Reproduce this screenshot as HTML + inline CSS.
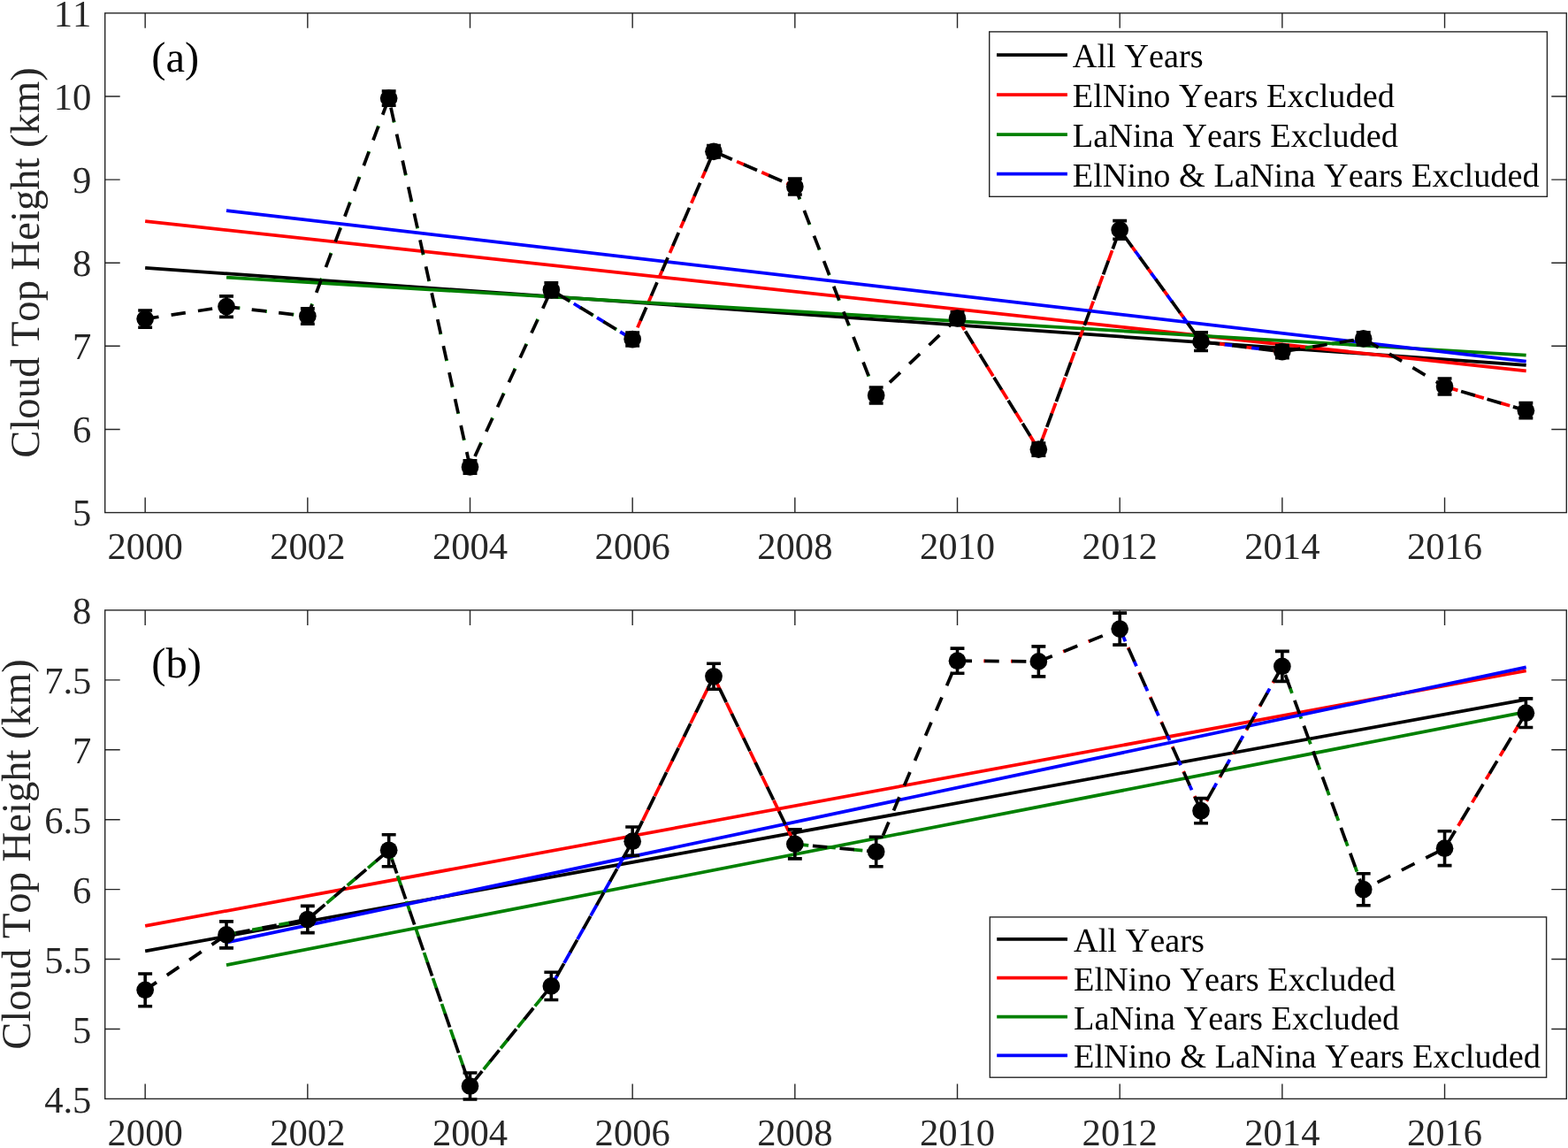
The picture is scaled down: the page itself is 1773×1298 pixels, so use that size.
<!DOCTYPE html>
<html lang="en">
<head>
<meta charset="utf-8">
<title>Cloud Top Height trends</title>
<style>
html,body{margin:0;padding:0;background:#ffffff;}
body{width:1773px;height:1298px;overflow:hidden;}
svg{display:block;font-family:"Liberation Serif","Times New Roman",serif;font-kerning:none;text-rendering:geometricPrecision;}
svg text{font-kerning:none;font-variant-ligatures:none;white-space:pre;}
</style>
</head>
<body>
<svg width="1773" height="1298" viewBox="0 0 1773 1298">
<rect width="1773" height="1298" fill="#ffffff"/>
<g class="panel" id="panel-a">
<g stroke="#262626" stroke-width="1.4" fill="none">
<rect x="118.72" y="14.83" width="1652.58" height="564.74"/>
<path d="M164.16 579.57v-17M164.16 14.83v17M347.83 579.57v-17M347.83 14.83v17M531.5 579.57v-17M531.5 14.83v17M715.18 579.57v-17M715.18 14.83v17M898.85 579.57v-17M898.85 14.83v17M1082.52 579.57v-17M1082.52 14.83v17M1266.19 579.57v-17M1266.19 14.83v17M1449.86 579.57v-17M1449.86 14.83v17M1633.54 579.57v-17M1633.54 14.83v17M118.72 485.45h17M1771.3 485.45h-17M118.72 391.32h17M1771.3 391.32h-17M118.72 297.2h17M1771.3 297.2h-17M118.72 203.08h17M1771.3 203.08h-17M118.72 108.95h17M1771.3 108.95h-17"/>
</g>
<g fill="none" stroke-width="3.75" stroke-linecap="butt">
<line x1="164.16" y1="302.9" x2="1725.67" y2="412.9" stroke="#000000"/>
<path d="M720.87 370.38L724.55 361.88 M733.05 342.23L736.73 333.73 M745.23 314.09L748.91 305.58 M757.41 285.94L761.09 277.43 M769.59 257.79L773.27 249.28 M781.77 229.64L785.45 221.14 M793.95 201.49L797.63 192.99 M806.13 173.35L807.01 171.3 M807.01 171.3L813.47 174.1 M833.11 182.6L841.62 186.28 M861.26 194.79L869.76 198.47 M889.4 206.97L897.91 210.65 M1083.71 361.82L1090.68 373.08 M1099.87 387.89L1106.84 399.15 M1116.02 413.96L1122.99 425.22 M1132.18 440.03L1139.15 451.29 M1148.33 466.1L1155.31 477.36 M1164.49 492.17L1171.46 503.43 M1178.5 496.91L1183.09 484.49 M1189.14 468.14L1193.73 455.73 M1199.78 439.38L1204.38 426.96 M1210.43 410.62L1215.02 398.2 M1221.07 381.85L1225.66 369.44 M1231.71 353.09L1236.31 340.67 M1242.35 324.32L1246.95 311.91 M1253 295.56L1257.59 283.14 M1263.64 266.8L1266.19 259.9 M1279.91 278.76L1284.11 284.54 M1297.94 303.57L1302.15 309.35 M1315.98 328.37L1320.18 334.16 M1334.02 353.18L1338.22 358.96 M1352.05 377.98L1356.26 383.77 M1378.38 388.73L1385.48 389.61 M1408.82 392.5L1415.92 393.39 M1439.25 396.28L1446.35 397.16 M1637.76 438.25L1648.4 441.4 M1667.17 446.96L1677.81 450.11 M1696.58 455.67L1707.21 458.82" stroke="#ff0000"/>
<line x1="164.16" y1="250.1" x2="1725.67" y2="419.4" stroke="#ff0000"/>
<path d="M269.81 348.25L271.39 348.44 M300.26 351.88L301.84 352.07 M330.72 355.52L332.29 355.71 M352.52 344.97L353.08 343.48 M363.23 316.23L363.79 314.74 M373.94 287.49L374.5 286 M384.65 258.75L385.2 257.26 M395.36 230.01L395.91 228.52 M406.07 201.27L406.62 199.78 M416.78 172.53L417.33 171.05 M427.49 143.79L428.04 142.31 M438.19 115.05L438.75 113.57 M445.36 136.93L445.7 138.48 M451.96 166.88L452.3 168.43 M458.55 196.84L458.9 198.39 M465.15 226.79L465.49 228.34 M471.75 256.74L472.09 258.29 M478.35 286.69L478.69 288.24 M484.95 316.64L485.29 318.19 M491.54 346.6L491.89 348.15 M498.14 376.55L498.48 378.1 M504.74 406.5L505.08 408.05 M511.34 436.45L511.68 438 M517.94 466.4L518.28 467.95 M524.53 496.35L524.87 497.9 M531.13 526.31L531.47 527.86 M543.57 501.7L544.23 500.26 M556.36 473.82L557.02 472.38 M569.14 445.95L569.81 444.5 M581.93 418.07L582.59 416.63 M594.72 390.19L595.38 388.75 M607.51 362.31L608.17 360.87 M620.3 334.44L620.96 333 M643.31 339.93L644.67 340.75 M669.53 355.84L670.89 356.67 M695.75 371.76L697.11 372.58 M903.92 224.08L904.47 225.5 M915.04 252.66L915.6 254.09 M926.17 281.25L926.72 282.67 M937.29 309.83L937.84 311.25 M948.42 338.41L948.97 339.83 M959.54 366.99L960.09 368.41 M970.67 395.57L971.22 396.99 M981.79 424.15L982.34 425.57 M1449.86 397.6L1454.78 396.81 M1475.96 393.42L1485.06 391.97 M1506.25 388.57L1515.35 387.12 M1536.53 383.73L1541.7 382.9" stroke="#008000"/>
<line x1="256" y1="313.6" x2="1725.67" y2="401.6" stroke="#008000"/>
<path d="M623.34 327.8L630.49 332.14 M648.79 343.25L656.71 348.06 M675.01 359.16L682.93 363.97 M701.22 375.08L709.14 379.89 M1266.19 259.9L1271.08 266.63 M1283.7 283.98L1289.12 291.43 M1301.74 308.78L1307.16 316.24 M1319.77 333.59L1325.19 341.04 M1337.81 358.39L1343.23 365.85 M1355.85 383.2L1358.03 386.2 M1358.03 386.2L1363.5 386.88 M1384.78 389.52L1393.93 390.66 M1415.22 393.3L1424.37 394.44 M1445.66 397.08L1449.86 397.6" stroke="#0000ff"/>
<line x1="256" y1="238.05" x2="1725.67" y2="408.7" stroke="#0000ff"/>
<path d="M164.16 360.6 L256 346.6 L347.83 357.56 L439.67 111.1 L531.5 528 L623.34 327.8 L715.18 383.55 L807.01 171.3 L898.85 211.06 L990.68 447 L1082.52 359.9 L1174.36 508.1 L1266.19 259.9 L1358.03 386.2 L1449.86 397.6 L1541.7 382.9 L1633.54 437 L1725.37 464.2" stroke="#000000" stroke-dasharray="16.4 14.27" stroke-dashoffset="0.9"/>
</g>
<g stroke="#000000" stroke-width="3.6" fill="#000000">
<path d="M164.16 351V370.2M156.21 351H172.11M156.21 370.2H172.11M256 334.85V358.35M248.05 334.85H263.95M248.05 358.35H263.95M347.83 348.86V366.26M339.88 348.86H355.78M339.88 366.26H355.78M439.67 103V119.2M431.72 103H447.62M431.72 119.2H447.62M531.5 520.7V535.3M523.55 520.7H539.45M523.55 535.3H539.45M623.34 319.8V335.8M615.39 319.8H631.29M615.39 335.8H631.29M715.18 376.1V391M707.23 376.1H723.13M707.23 391H723.13M807.01 164.55V178.05M799.06 164.55H814.96M799.06 178.05H814.96M898.85 202.16V219.96M890.9 202.16H906.8M890.9 219.96H906.8M990.68 438V456M982.73 438H998.63M982.73 456H998.63M1082.52 352.7V367.1M1074.57 352.7H1090.47M1074.57 367.1H1090.47M1174.36 501.1V515.1M1166.41 501.1H1182.31M1166.41 515.1H1182.31M1266.19 249.6V270.2M1258.24 249.6H1274.14M1258.24 270.2H1274.14M1358.03 375.9V396.5M1350.08 375.9H1365.98M1350.08 396.5H1365.98M1449.86 390.6V404.6M1441.91 390.6H1457.81M1441.91 404.6H1457.81M1541.7 375.9V389.9M1533.75 375.9H1549.65M1533.75 389.9H1549.65M1633.54 428V446M1625.59 428H1641.49M1625.59 446H1641.49M1725.37 455.6V472.8M1717.42 455.6H1733.32M1717.42 472.8H1733.32" fill="none"/>
<circle cx="164.16" cy="360.6" r="9.85" stroke="none"/>
<circle cx="256" cy="346.6" r="9.85" stroke="none"/>
<circle cx="347.83" cy="357.56" r="9.85" stroke="none"/>
<circle cx="439.67" cy="111.1" r="9.85" stroke="none"/>
<circle cx="531.5" cy="528" r="9.85" stroke="none"/>
<circle cx="623.34" cy="327.8" r="9.85" stroke="none"/>
<circle cx="715.18" cy="383.55" r="9.85" stroke="none"/>
<circle cx="807.01" cy="171.3" r="9.85" stroke="none"/>
<circle cx="898.85" cy="211.06" r="9.85" stroke="none"/>
<circle cx="990.68" cy="447" r="9.85" stroke="none"/>
<circle cx="1082.52" cy="359.9" r="9.85" stroke="none"/>
<circle cx="1174.36" cy="508.1" r="9.85" stroke="none"/>
<circle cx="1266.19" cy="259.9" r="9.85" stroke="none"/>
<circle cx="1358.03" cy="386.2" r="9.85" stroke="none"/>
<circle cx="1449.86" cy="397.6" r="9.85" stroke="none"/>
<circle cx="1541.7" cy="382.9" r="9.85" stroke="none"/>
<circle cx="1633.54" cy="437" r="9.85" stroke="none"/>
<circle cx="1725.37" cy="464.2" r="9.85" stroke="none"/>
</g>
<g class="ticklab" fill="#262626" font-size="42.6">
<text x="164.16" y="632.25" text-anchor="middle">2000</text>
<text x="347.83" y="632.25" text-anchor="middle">2002</text>
<text x="531.5" y="632.25" text-anchor="middle">2004</text>
<text x="715.18" y="632.25" text-anchor="middle">2006</text>
<text x="898.85" y="632.25" text-anchor="middle">2008</text>
<text x="1082.52" y="632.25" text-anchor="middle">2010</text>
<text x="1266.19" y="632.25" text-anchor="middle">2012</text>
<text x="1449.86" y="632.25" text-anchor="middle">2014</text>
<text x="1633.54" y="632.25" text-anchor="middle">2016</text>
<text x="103.4" y="594.47" text-anchor="end">5</text>
<text x="103.4" y="500.35" text-anchor="end">6</text>
<text x="103.4" y="406.22" text-anchor="end">7</text>
<text x="103.4" y="312.1" text-anchor="end">8</text>
<text x="103.4" y="217.98" text-anchor="end">9</text>
<text x="103.4" y="123.85" text-anchor="end">10</text>
<text x="103.4" y="29.73" text-anchor="end">11</text>
</g>
<text class="ylab" fill="#262626" font-size="46.6" text-anchor="middle" transform="translate(44.4 297) rotate(-90)">Cloud Top Height (km)</text>
<text class="tag" fill="#000000" font-size="48.5" x="171.3" y="80.55">(a)</text>
<g class="legend">
<rect x="1118.7" y="35.9" width="630.7" height="186.4" fill="#ffffff" stroke="#262626" stroke-width="1.4"/>
<line x1="1127" y1="62.1" x2="1206.9" y2="62.1" stroke="#000000" stroke-width="3.75"/>
<text x="1212.8" y="76.3" font-size="38.35" fill="#000000">All Years</text>
<line x1="1127" y1="107" x2="1206.9" y2="107" stroke="#ff0000" stroke-width="3.75"/>
<text x="1212.8" y="121.1" font-size="38.35" fill="#000000">ElNino Years Excluded</text>
<line x1="1127" y1="152" x2="1206.9" y2="152" stroke="#008000" stroke-width="3.75"/>
<text x="1212.8" y="165.7" font-size="38.35" fill="#000000">LaNina Years Excluded</text>
<line x1="1127" y1="196.6" x2="1206.9" y2="196.6" stroke="#0000ff" stroke-width="3.75"/>
<text x="1212.8" y="210.5" font-size="38.35" fill="#000000">ElNino &amp; LaNina Years Excluded</text>
</g>
</g>
<g class="panel" id="panel-b">
<g stroke="#262626" stroke-width="1.4" fill="none">
<rect x="118.72" y="689.9" width="1652.58" height="552.5"/>
<path d="M164.16 1242.4v-17M164.16 689.9v17M347.83 1242.4v-17M347.83 689.9v17M531.5 1242.4v-17M531.5 689.9v17M715.18 1242.4v-17M715.18 689.9v17M898.85 1242.4v-17M898.85 689.9v17M1082.52 1242.4v-17M1082.52 689.9v17M1266.19 1242.4v-17M1266.19 689.9v17M1449.86 1242.4v-17M1449.86 689.9v17M1633.54 1242.4v-17M1633.54 689.9v17M118.72 1163.47h17M1771.3 1163.47h-17M118.72 1084.54h17M1771.3 1084.54h-17M118.72 1005.61h17M1771.3 1005.61h-17M118.72 926.69h17M1771.3 926.69h-17M118.72 847.76h17M1771.3 847.76h-17M118.72 768.83h17M1771.3 768.83h-17"/>
</g>
<g fill="none" stroke-width="3.75" stroke-linecap="butt">
<line x1="164.16" y1="1075.3" x2="1725.67" y2="790.8" stroke="#000000"/>
<path d="M715.18 951.2L719.58 942.26 M726.71 927.8L733.13 914.75 M740.26 900.28L746.69 887.24 M753.82 872.77L760.24 859.73 M767.37 845.26L773.8 832.21 M780.93 817.75L787.35 804.7 M794.48 790.24L800.91 777.19 M808.02 766.88L814.36 779.97 M821.39 794.49L827.73 807.57 M834.76 822.09L841.1 835.18 M848.13 849.69L854.47 862.78 M861.5 877.29L867.84 890.38 M874.87 904.9L881.21 917.99 M888.24 932.5L894.58 945.59 M1082.52 747.2L1083.33 747.21 M1112.29 747.43L1114 747.44 M1142.96 747.66L1144.67 747.67 M1173.63 747.89L1174.36 747.9 M1174.36 747.9L1175.27 747.53 M1202.15 736.76L1203.74 736.13 M1230.62 725.35L1232.21 724.72 M1259.09 713.95L1260.68 713.31 M1275.58 732.12L1276.28 733.68 M1288.09 760.12L1288.79 761.68 M1300.6 788.12L1301.29 789.69 M1313.1 816.13L1313.8 817.69 M1325.61 844.13L1326.31 845.69 M1338.12 872.13L1338.82 873.7 M1350.63 900.14L1351.33 901.7 M1364.17 905.78L1365.01 904.29 M1379.2 879.05L1380.04 877.55 M1394.24 852.31L1395.08 850.82 M1409.27 825.58L1410.11 824.09 M1424.3 798.85L1425.14 797.36 M1439.34 772.12L1440.18 770.62 M1633.54 959.2L1637.4 952.75 M1648.86 933.68L1653.19 926.46 M1664.64 907.38L1668.97 900.16 M1680.43 881.08L1684.76 873.87 M1696.21 854.79L1700.54 847.57 M1711.99 828.49L1716.33 821.27" stroke="#ff0000"/>
<line x1="164.16" y1="1046.9" x2="1725.67" y2="758.3" stroke="#ff0000"/>
<path d="M256 1056.9L267.22 1054.77 M285.25 1051.36L297.35 1049.06 M315.38 1045.65L327.49 1043.35 M345.51 1039.94L347.83 1039.5 M347.83 1039.5L355.42 1033.04 M369.39 1021.15L378.77 1013.16 M392.74 1001.26L402.12 993.27 M416.09 981.38L425.47 973.39 M439.44 961.49L439.67 961.3 M439.67 961.3L443.58 972.67 M449.56 990.02L453.57 1001.67 M459.54 1019.01L463.55 1030.67 M469.53 1048.01L473.54 1059.66 M479.51 1077.01L483.52 1088.66 M489.5 1106.01L493.51 1117.66 M499.48 1135.01L503.5 1146.66 M509.47 1164.01L513.48 1175.66 M519.45 1193.01L523.47 1204.66 M529.44 1222.01L531.5 1228 M531.5 1228L535.28 1223.35 M546.84 1209.11L554.61 1199.55 M566.17 1185.3L573.94 1175.74 M585.51 1161.49L593.27 1151.93 M604.84 1137.68L612.61 1128.12 M904.03 954.89L914.28 955.85 M934.57 957.75L944.82 958.7 M965.11 960.6L975.35 961.56 M1449.86 753.4L1450.44 754.98 M1458.73 777.75L1460.93 783.8 M1469.22 806.57L1471.42 812.62 M1479.71 835.39L1481.91 841.44 M1490.2 864.21L1492.4 870.26 M1500.69 893.03L1502.89 899.08 M1511.18 921.85L1513.38 927.9 M1521.67 950.67L1523.87 956.72 M1532.16 979.49L1534.36 985.54" stroke="#008000"/>
<line x1="256" y1="1091.1" x2="1725.67" y2="804.9" stroke="#008000"/>
<path d="M623.34 1114.9L630.02 1103 M637.91 1088.94L645.02 1076.25 M652.91 1062.19L660.03 1049.5 M667.92 1035.44L675.03 1022.76 M682.92 1008.69L690.04 996.01 M697.93 981.94L705.05 969.26 M712.93 955.19L715.18 951.2 M1269.89 719.37L1272.51 725.25 M1282.39 747.37L1285.02 753.26 M1294.9 775.38L1297.53 781.26 M1307.41 803.38L1310.04 809.26 M1319.92 831.38L1322.55 837.27 M1332.43 859.39L1335.06 865.27 M1344.94 887.39L1347.56 893.27 M1357.45 915.39L1358.03 916.7 M1358.03 916.7L1360.48 912.33 M1372.36 891.21L1375.52 885.6 M1387.39 864.48L1390.55 858.87 M1402.43 837.75L1405.59 832.13 M1417.46 811.02L1420.62 805.4 M1432.5 784.28L1435.65 778.67 M1447.53 757.55L1449.86 753.4" stroke="#0000ff"/>
<line x1="256" y1="1065.6" x2="1725.67" y2="754.4" stroke="#0000ff"/>
<path d="M164.16 1119.35 L256 1056.9 L347.83 1039.5 L439.67 961.3 L531.5 1228 L623.34 1114.9 L715.18 951.2 L807.01 764.8 L898.85 954.4 L990.68 963 L1082.52 747.2 L1174.36 747.9 L1266.19 711.1 L1358.03 916.7 L1449.86 753.4 L1541.7 1005.7 L1633.54 959.2 L1725.37 806.2" stroke="#000000" stroke-dasharray="16.4 14.27" stroke-dashoffset="0.9"/>
</g>
<g stroke="#000000" stroke-width="3.6" fill="#000000">
<path d="M164.16 1100.95V1137.75M156.21 1100.95H172.11M156.21 1137.75H172.11M256 1041.9V1071.9M248.05 1041.9H263.95M248.05 1071.9H263.95M347.83 1024.4V1054.6M339.88 1024.4H355.78M339.88 1054.6H355.78M439.67 943.8V979.75M431.72 943.8H447.62M431.72 979.75H447.62M531.5 1213V1243M523.55 1213H539.45M523.55 1243H539.45M623.34 1099.3V1130.5M615.39 1099.3H631.29M615.39 1130.5H631.29M715.18 935V967.4M707.23 935H723.13M707.23 967.4H723.13M807.01 750.3V779.3M799.06 750.3H814.96M799.06 779.3H814.96M898.85 937.9V970.9M890.9 937.9H906.8M890.9 970.9H906.8M990.68 946.3V979.7M982.73 946.3H998.63M982.73 979.7H998.63M1082.52 733.1V761.3M1074.57 733.1H1090.47M1074.57 761.3H1090.47M1174.36 730.9V764.9M1166.41 730.9H1182.31M1166.41 764.9H1182.31M1266.19 693.1V729.1M1258.24 693.1H1274.14M1258.24 729.1H1274.14M1358.03 902.6V930.8M1350.08 902.6H1365.98M1350.08 930.8H1365.98M1449.86 736.4V770.4M1441.91 736.4H1457.81M1441.91 770.4H1457.81M1541.7 987.7V1023.7M1533.75 987.7H1549.65M1533.75 1023.7H1549.65M1633.54 939.8V978.6M1625.59 939.8H1641.49M1625.59 978.6H1641.49M1725.37 789.9V822.5M1717.42 789.9H1733.32M1717.42 822.5H1733.32" fill="none"/>
<circle cx="164.16" cy="1119.35" r="9.85" stroke="none"/>
<circle cx="256" cy="1056.9" r="9.85" stroke="none"/>
<circle cx="347.83" cy="1039.5" r="9.85" stroke="none"/>
<circle cx="439.67" cy="961.3" r="9.85" stroke="none"/>
<circle cx="531.5" cy="1228" r="9.85" stroke="none"/>
<circle cx="623.34" cy="1114.9" r="9.85" stroke="none"/>
<circle cx="715.18" cy="951.2" r="9.85" stroke="none"/>
<circle cx="807.01" cy="764.8" r="9.85" stroke="none"/>
<circle cx="898.85" cy="954.4" r="9.85" stroke="none"/>
<circle cx="990.68" cy="963" r="9.85" stroke="none"/>
<circle cx="1082.52" cy="747.2" r="9.85" stroke="none"/>
<circle cx="1174.36" cy="747.9" r="9.85" stroke="none"/>
<circle cx="1266.19" cy="711.1" r="9.85" stroke="none"/>
<circle cx="1358.03" cy="916.7" r="9.85" stroke="none"/>
<circle cx="1449.86" cy="753.4" r="9.85" stroke="none"/>
<circle cx="1541.7" cy="1005.7" r="9.85" stroke="none"/>
<circle cx="1633.54" cy="959.2" r="9.85" stroke="none"/>
<circle cx="1725.37" cy="806.2" r="9.85" stroke="none"/>
</g>
<g class="ticklab" fill="#262626" font-size="42.6">
<text x="164.16" y="1294.9" text-anchor="middle">2000</text>
<text x="347.83" y="1294.9" text-anchor="middle">2002</text>
<text x="531.5" y="1294.9" text-anchor="middle">2004</text>
<text x="715.18" y="1294.9" text-anchor="middle">2006</text>
<text x="898.85" y="1294.9" text-anchor="middle">2008</text>
<text x="1082.52" y="1294.9" text-anchor="middle">2010</text>
<text x="1266.19" y="1294.9" text-anchor="middle">2012</text>
<text x="1449.86" y="1294.9" text-anchor="middle">2014</text>
<text x="1633.54" y="1294.9" text-anchor="middle">2016</text>
<text x="103.4" y="1257.6" text-anchor="end">4.5</text>
<text x="103.4" y="1178.67" text-anchor="end">5</text>
<text x="103.4" y="1099.74" text-anchor="end">5.5</text>
<text x="103.4" y="1020.81" text-anchor="end">6</text>
<text x="103.4" y="941.89" text-anchor="end">6.5</text>
<text x="103.4" y="862.96" text-anchor="end">7</text>
<text x="103.4" y="784.03" text-anchor="end">7.5</text>
<text x="103.4" y="705.1" text-anchor="end">8</text>
</g>
<text class="ylab" fill="#262626" font-size="46.6" text-anchor="middle" transform="translate(33.7 966) rotate(-90)">Cloud Top Height (km)</text>
<text class="tag" fill="#000000" font-size="48.5" x="171.25" y="766.2">(b)</text>
<g class="legend">
<rect x="1119.3" y="1036.9" width="629.3" height="181.3" fill="#ffffff" stroke="#262626" stroke-width="1.4"/>
<line x1="1127.2" y1="1061.8" x2="1207" y2="1061.8" stroke="#000000" stroke-width="3.75"/>
<text x="1214" y="1075.9" font-size="38.35" fill="#000000">All Years</text>
<line x1="1127.2" y1="1105.7" x2="1207" y2="1105.7" stroke="#ff0000" stroke-width="3.75"/>
<text x="1214" y="1119.7" font-size="38.35" fill="#000000">ElNino Years Excluded</text>
<line x1="1127.2" y1="1149.5" x2="1207" y2="1149.5" stroke="#008000" stroke-width="3.75"/>
<text x="1214" y="1163.7" font-size="38.35" fill="#000000">LaNina Years Excluded</text>
<line x1="1127.2" y1="1193.3" x2="1207" y2="1193.3" stroke="#0000ff" stroke-width="3.75"/>
<text x="1214" y="1207.1" font-size="38.35" fill="#000000">ElNino &amp; LaNina Years Excluded</text>
</g>
</g>
</svg>
</body>
</html>
